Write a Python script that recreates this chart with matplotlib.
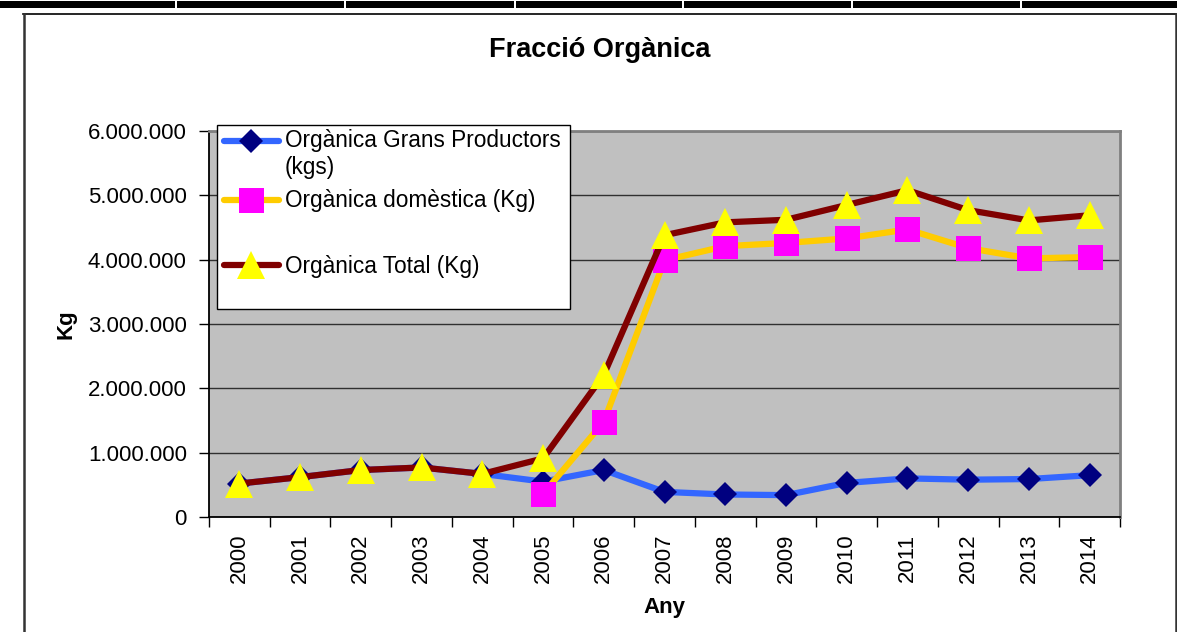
import matplotlib
matplotlib.use("Agg")
import matplotlib.pyplot as plt
import numpy as np
from matplotlib.lines import Line2D
from matplotlib.patches import Rectangle
from matplotlib.ticker import FuncFormatter, FixedLocator

years = [str(y) for y in range(2000, 2015)]
grans = [520000, 620000, 730000, 770000, 670000, 550000, 730000, 390000, 350000, 340000,
         530000, 600000, 580000, 590000, 650000]
domestica = [np.nan, np.nan, np.nan, np.nan, np.nan, 360000, 1480000, 3990000, 4210000,
             4260000, 4330000, 4470000, 4180000, 4020000, 4040000]
total = [520000, 620000, 730000, 770000, 670000, 910000, 2210000, 4380000, 4580000,
         4620000, 4850000, 5080000, 4770000, 4610000, 4690000]
labels = ["Orgànica Grans Productors (kgs)", "Orgànica domèstica (Kg)", "Orgànica Total (Kg)"]
yticks = [0, 1000000, 2000000, 3000000, 4000000, 5000000, 6000000]

plt.rcParams['font.family'] = ['Liberation Sans', 'DejaVu Sans']

W, H = 1177, 632
fig = plt.figure(figsize=(W / 100, H / 100), dpi=100)
fig.patch.set_facecolor('white')

def fx(px):
    return px / W

def fy(py):
    return 1 - py / H

# top decorative band
fig.add_artist(Rectangle((0, fy(8)), 1, 6.5 / H, transform=fig.transFigure,
                         facecolor='black', edgecolor='none', zorder=1))
for gx in [176, 345, 515, 683, 852, 1021]:
    fig.add_artist(Rectangle((fx(gx - 1), fy(8)), 2 / W, 6.5 / H, transform=fig.transFigure,
                             facecolor='white', edgecolor='none', zorder=2))
# chart area border
fig.add_artist(Line2D([fx(23), fx(1176)], [fy(14), fy(14)], transform=fig.transFigure,
                      color='black', lw=1.2, zorder=1))
fig.add_artist(Line2D([fx(23.5), fx(23.5)], [fy(14), 0], transform=fig.transFigure,
                      color='#333333', lw=1.8, zorder=1))
fig.add_artist(Line2D([fx(1176), fx(1176)], [fy(14), 0], transform=fig.transFigure,
                      color='#333333', lw=1.8, zorder=1))

ax = fig.add_axes([fx(209), fy(517), fx(1120) - fx(209), fy(131) - fy(517)])
ax.set_facecolor('#C0C0C0')
x = np.arange(len(years))

ax.set_xlim(-0.5, len(years) - 0.5)
ax.set_ylim(0, 6000000)
ax.set_yticks(yticks)
ax.yaxis.set_major_formatter(FuncFormatter(lambda v, p: f"{int(v):,}".replace(",", ".")))
ax.grid(axis='y', color='#303030', lw=1.0, zorder=1)
ax.set_axisbelow(True)

ax.set_xticks(x)
ax.set_xticklabels(years, rotation=90)
ax.xaxis.set_minor_locator(FixedLocator(np.arange(-0.5, len(years), 1.0)))
ax.tick_params(axis='x', which='major', length=0, pad=12, labelsize=16)
ax.tick_params(axis='x', which='minor', length=7, width=1, color='black', direction='out')
ax.tick_params(axis='y', length=7, width=1, color='black', direction='out', pad=9, labelsize=16)

for s in ['top', 'right']:
    ax.spines[s].set_color('#808080')
    ax.spines[s].set_linewidth(2)
for s in ['left', 'bottom']:
    ax.spines[s].set_color('black')
    ax.spines[s].set_linewidth(1.3)

lw = 4.5
styles = [
    dict(color='#3366FF', marker='D', markersize=12.5, markerfacecolor='#000080', markeredgecolor='#000080', markeredgewidth=0),
    dict(color='#FFCC00', marker='s', markersize=18, markerfacecolor='#FF00FF', markeredgecolor='#FF00FF', markeredgewidth=0),
    dict(color='#800000', marker='^', markersize=19.5, markerfacecolor='#FFFF00', markeredgecolor='#FFFF00', markeredgewidth=0),
]
for i, (vals, st) in enumerate(zip([grans, domestica, total], styles)):
    ax.plot(x, vals, lw=lw, solid_joinstyle='round', solid_capstyle='round', zorder=3 + i, clip_on=False, **st)

fig.text(fx(600), fy(50), "Fracció Orgànica", fontsize=19.5, fontweight='bold', ha='center', va='center')

ax.set_xlabel("Any", fontsize=16, fontweight='bold')
ax.xaxis.set_label_coords(0.5, (517 - 608) / 386)
ax.xaxis.label.set_va('center')
ax.set_ylabel("Kg", fontsize=16, fontweight='bold')
ax.yaxis.set_label_coords((66 - 209) / 911, 0.5)
ax.yaxis.label.set_va('center')

# legend (manual, Excel style)
fig.add_artist(Rectangle((fx(217), fy(309)), fx(570) - fx(217), fy(125) - fy(309),
                         transform=fig.transFigure, facecolor='white', edgecolor='black',
                         lw=1.0, zorder=10))
entry_y = [141, 200, 265]
text_lines = [[("Orgànica Grans Productors", 141), ("(kgs)", 167)],
              [(labels[1], 201)],
              [(labels[2], 266)]]
for ey, st, tl in zip(entry_y, styles, text_lines):
    fig.add_artist(Line2D([fx(224), fx(279)], [fy(ey), fy(ey)], transform=fig.transFigure,
                          color=st['color'], lw=lw, solid_capstyle='round', zorder=11))
    mst = {k: v for k, v in st.items() if k != 'color'}
    fig.add_artist(Line2D([fx(251)], [fy(ey)], transform=fig.transFigure, linestyle='none',
                          zorder=12, **mst))
    for t, ty in tl:
        fig.text(fx(285), fy(ty), t, fontsize=16.3, ha='left', va='center', zorder=13)

fig.savefig("out.png", dpi=100)
